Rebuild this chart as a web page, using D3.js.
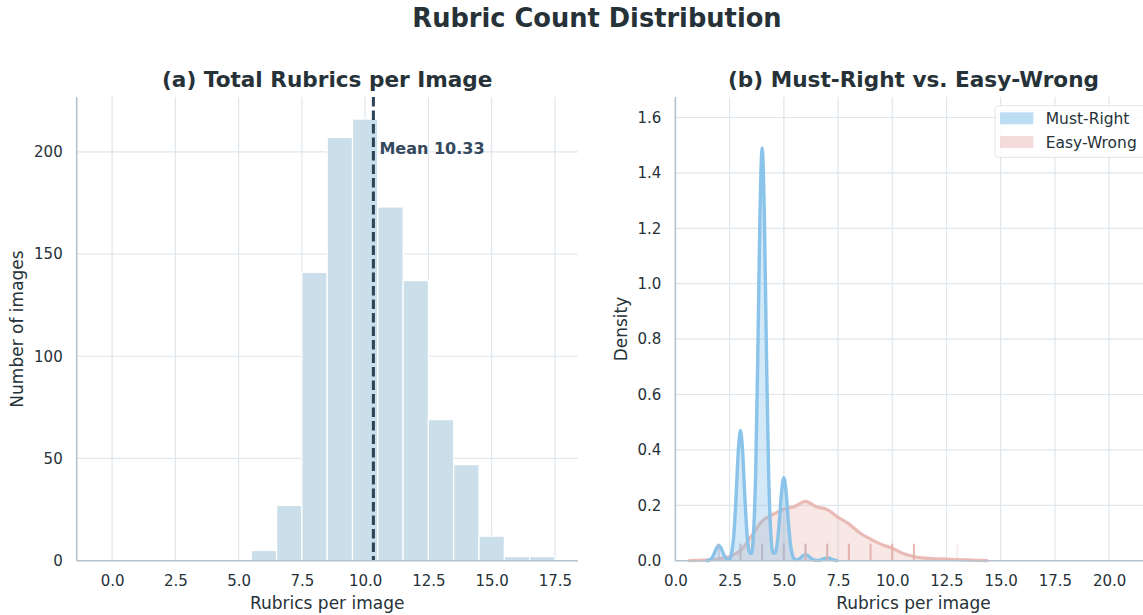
<!DOCTYPE html>
<html><head><meta charset="utf-8">
<script src="https://cdn.jsdelivr.net/npm/d3@7"></script>
<style>
body{margin:0;background:#fff}
svg{display:block}
text{font-family:"DejaVu Sans",sans-serif;fill:#263238}
</style>
</head><body>
<svg id="c" width="1143" height="615"></svg>
<script>
// ---------- data ----------
const histBins   = [6, 7, 8, 9, 10, 11, 12, 13, 14, 15, 16, 17];
const histCounts = [5, 27, 141, 207, 216, 173, 137, 69, 47, 12, 2, 2];
const histXTicks = [0, 2.5, 5, 7.5, 10, 12.5, 15, 17.5];
const histYTicks = [0, 50, 100, 150, 200];

const kdeXTicks = [0, 2.5, 5, 7.5, 10, 12.5, 15, 17.5, 20];
const kdeYTicks = [0, 0.2, 0.4, 0.6, 0.8, 1.0, 1.2, 1.4, 1.6];
const seriesNames = ["Must-Right", "Easy-Wrong"];

const mustRightDensity = [
 [1.4,0],[1.5,0.0002],[1.6,0.004],[1.7,0.012],[1.8,0.028],[1.9,0.046],[2.0,0.055],[2.1,0.046],
 [2.2,0.028],[2.3,0.012],[2.4,0.005],[2.5,0.006],[2.6,0.030],[2.7,0.099],[2.8,0.235],[2.9,0.395],
 [3.0,0.47],[3.1,0.395],[3.2,0.235],[3.3,0.100],[3.4,0.033],[3.5,0.026],[3.6,0.095],[3.7,0.314],
 [3.8,0.745],[3.9,1.253],[4.0,1.49],[4.1,1.253],[4.2,0.745],[4.3,0.314],[4.4,0.097],[4.5,0.028],
 [4.6,0.028],[4.7,0.066],[4.8,0.15],[4.9,0.252],[5.0,0.30],[5.1,0.252],[5.2,0.15],[5.3,0.063],
 [5.4,0.019],[5.5,0.005],[5.6,0.003],[5.7,0.006],[5.8,0.012],[5.9,0.019],[6.0,0.022],[6.1,0.019],
 [6.2,0.012],[6.3,0.006],[6.4,0.002],[6.5,0.001],[6.6,0.001],[6.7,0.003],[6.8,0.006],[6.9,0.009],
 [7.0,0.010],[7.1,0.009],[7.2,0.006],[7.3,0.003],[7.4,0.001],[7.5,0]
];
const easyWrongDensity = [
 [0.6,0],[1.0,0.001],[1.5,0.003],[2.0,0.007],[2.5,0.015],[3.0,0.037],[3.5,0.088],[4.0,0.143],
 [4.5,0.167],[5.0,0.186],[5.5,0.196],[6.0,0.214],[6.5,0.195],[7.0,0.185],[7.5,0.157],[8.0,0.133],
 [8.5,0.101],[9.0,0.078],[9.5,0.059],[10.0,0.045],[10.5,0.026],[11.0,0.015],[11.5,0.009],[12.0,0.007],
 [12.5,0.006],[13.0,0.004],[13.5,0.003],[14.0,0.001],[14.4,0]
];
const mustRightRug       = [2, 3, 4, 5, 6, 7];
const mustRightRugCounts = [4, 40, 120, 25, 2, 1];
const easyWrongRug       = [2, 3, 4, 5, 6, 7, 8, 9, 10, 11, 13];
const easyWrongRugCounts = [2, 6, 20, 40, 60, 50, 40, 25, 15, 8, 1];

// ---------- styles ----------
const C = {
  grid: "#dfe6ec", spine: "#b6c3cc", bar: "#cbdfea", mean: "#2c4257",
  blue: "#85c1e9", pink: "#e6b0aa", text: "#263238", meanText: "#34495e"
};

const svg = d3.select("#c");

// main title
svg.append("text").attr("x", 597).attr("y", 27).attr("text-anchor", "middle")
  .style("font-size", "25.7px").style("font-weight", "bold").text("Rubric Count Distribution");

// ---------- helpers ----------
function frame(g, x, y, xTicks, yTicks, x0, x1, y0, y1) {
  g.append("g").selectAll("line").data(xTicks).join("line")
    .attr("x1", d => x(d)).attr("x2", d => x(d)).attr("y1", y1).attr("y2", y0)
    .attr("stroke", C.grid).attr("stroke-width", 1.2);
  g.append("g").selectAll("line").data(yTicks).join("line")
    .attr("x1", x0).attr("x2", x1).attr("y1", d => y(d)).attr("y2", d => y(d))
    .attr("stroke", C.grid).attr("stroke-width", 1.2);
}
function axes(g, x, y, xTicks, yTicks, xFmt, yFmt, x0, x1, y0, y1) {
  const ax = g.append("g").attr("transform", `translate(0,${y0})`)
    .call(d3.axisBottom(x).tickValues(xTicks).tickFormat(xFmt).tickSize(0).tickPadding(15));
  const ay = g.append("g").attr("transform", `translate(${x0},0)`)
    .call(d3.axisLeft(y).tickValues(yTicks).tickFormat(yFmt).tickSize(0).tickPadding(14));
  [ax, ay].forEach(a => {
    a.select(".domain").remove();
    a.selectAll("text").style("font-size", "15px").attr("fill", C.text).style("font-family", '"DejaVu Sans",sans-serif');
  });
  g.append("line").attr("x1", x0).attr("x2", x0).attr("y1", y1).attr("y2", y0)
    .attr("stroke", C.spine).attr("stroke-width", 1.6);
  g.append("line").attr("x1", x0).attr("x2", x1).attr("y1", y0).attr("y2", y0)
    .attr("stroke", C.spine).attr("stroke-width", 1.6);
}

// ---------- panel (a) ----------
{
  const x0 = 76.7, x1 = 577.7, y0 = 560.7, y1 = 97;
  const x = d3.scaleLinear().domain([-1.4, 18.4]).range([x0, x1]);
  const y = d3.scaleLinear().domain([0, 226.8]).range([y0, y1]);
  const g = svg.append("g");
  frame(g, x, y, histXTicks, histYTicks, x0, x1, y0, y1);

  const bars = histBins.map((b, i) => ({ b, c: histCounts[i] }));
  g.append("g").selectAll("rect").data(bars).join("rect")
    .attr("x", d => x(d.b - 0.5)).attr("width", d => x(d.b + 0.5) - x(d.b - 0.5))
    .attr("y", d => y(d.c)).attr("height", d => y(0) - y(d.c))
    .attr("fill", C.bar).attr("stroke", "#fff").attr("stroke-width", 1.2);

  const mean = d3.sum(bars, d => d.b * d.c) / d3.sum(bars, d => d.c);
  g.append("line").attr("x1", x(mean)).attr("x2", x(mean)).attr("y1", y1).attr("y2", y0)
    .attr("stroke", C.mean).attr("stroke-width", 3).attr("stroke-dasharray", "9.5,4");
  g.append("text").attr("x", x(mean) + 6).attr("y", 153.5)
    .style("font-size", "16px").style("font-weight", "bold").style("fill", C.meanText)
    .text("Mean " + mean.toFixed(2));

  axes(g, x, y, histXTicks, histYTicks, d3.format(".1f"), d3.format("d"), x0, x1, y0, y1);

  g.append("text").attr("x", (x0 + x1) / 2).attr("y", 87).attr("text-anchor", "middle")
    .style("font-size", "21.6px").style("font-weight", "bold").text("(a) Total Rubrics per Image");
  g.append("text").attr("x", (x0 + x1) / 2).attr("y", 609).attr("text-anchor", "middle")
    .style("font-size", "17px").text("Rubrics per image");
  g.append("text").attr("transform", `translate(23,329) rotate(-90)`).attr("text-anchor", "middle")
    .style("font-size", "17px").text("Number of images");
}

// ---------- panel (b) ----------
{
  const x0 = 675.4, x1 = 1151.6, y0 = 560.7, y1 = 97;
  const x = d3.scaleLinear().domain([0, 21.96]).range([x0, x1]);
  const y = d3.scaleLinear().domain([0, 1.674]).range([y0, y1]);
  const g = svg.append("g");
  frame(g, x, y, kdeXTicks, kdeYTicks, x0, x1, y0, y1);

  const area = d3.area().x(d => x(d[0])).y0(y(0)).y1(d => y(d[1])).curve(d3.curveMonotoneX);
  const line = d3.line().x(d => x(d[0])).y(d => y(d[1])).curve(d3.curveMonotoneX);

  // Easy-Wrong
  g.append("path").datum(easyWrongDensity).attr("d", area).attr("fill", C.pink).attr("fill-opacity", 0.3);
  g.append("path").datum(easyWrongDensity).attr("d", line).attr("fill", "none")
    .attr("stroke", C.pink).attr("stroke-opacity", 0.85).attr("stroke-width", 3.2);
  // Must-Right
  g.append("path").datum(mustRightDensity).attr("d", area).attr("fill", C.blue).attr("fill-opacity", 0.35);
  g.append("path").datum(mustRightDensity).attr("d", line).attr("fill", "none")
    .attr("stroke", C.blue).attr("stroke-opacity", 0.95).attr("stroke-width", 3.4)
    .attr("stroke-linejoin", "round");

  // rugs
  const rugH = 17;
  g.append("g").selectAll("line").data(easyWrongRug.map((v, i) => [v, easyWrongRugCounts[i]])).join("line")
    .attr("x1", d => x(d[0])).attr("x2", d => x(d[0])).attr("y1", y0).attr("y2", y0 - rugH)
    .attr("stroke", C.pink).attr("stroke-width", 2)
    .attr("stroke-opacity", d => 1 - Math.pow(0.75, d[1]));
  g.append("g").selectAll("line").data(mustRightRug.map((v, i) => [v, mustRightRugCounts[i]])).join("line")
    .attr("x1", d => x(d[0])).attr("x2", d => x(d[0])).attr("y1", y0).attr("y2", y0 - rugH)
    .attr("stroke", C.blue).attr("stroke-width", 2)
    .attr("stroke-opacity", d => 0.5 * (1 - Math.pow(0.75, d[1])));

  axes(g, x, y, kdeXTicks, kdeYTicks, d3.format(".1f"), d3.format(".1f"), x0, x1, y0, y1);

  g.append("text").attr("x", (x0 + x1) / 2).attr("y", 87).attr("text-anchor", "middle")
    .style("font-size", "21.6px").style("font-weight", "bold").text("(b) Must-Right vs. Easy-Wrong");
  g.append("text").attr("x", (x0 + x1) / 2).attr("y", 609).attr("text-anchor", "middle")
    .style("font-size", "17px").text("Rubrics per image");
  g.append("text").attr("transform", `translate(627,329) rotate(-90)`).attr("text-anchor", "middle")
    .style("font-size", "17px").text("Density");

  // legend
  const lg = g.append("g");
  lg.append("rect").attr("x", 995).attr("y", 105.7).attr("width", 152).attr("height", 51.6)
    .attr("rx", 3).attr("fill", "#fff").attr("fill-opacity", 0.85).attr("stroke", "#dfe6ec").attr("stroke-width", 1);
  const colors = [C.blue, C.pink], ops = [0.55, 0.45];
  seriesNames.forEach((n, i) => {
    lg.append("rect").attr("x", 1000).attr("y", 112.3 + i * 23.8).attr("width", 33.3).attr("height", 12)
      .attr("fill", colors[i]).attr("fill-opacity", ops[i]);
    lg.append("text").attr("x", 1045.7).attr("y", 124.3 + i * 23.8).style("font-size", "15.5px").text(n);
  });
}
</script>
</body></html>
